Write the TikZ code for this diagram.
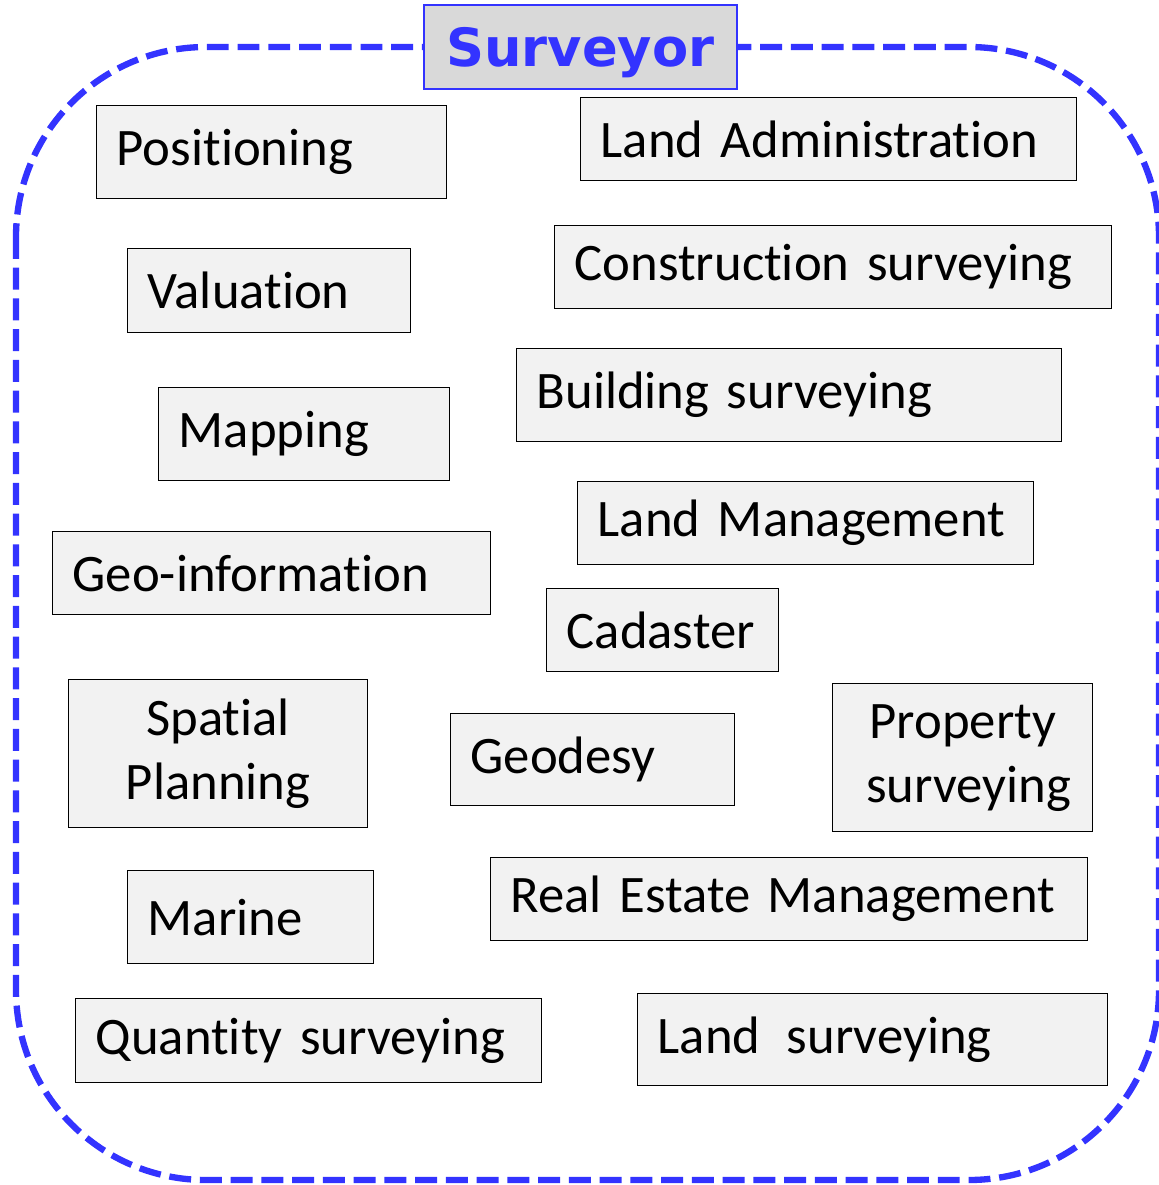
\documentclass[tikz,border=0pt]{standalone}
\usepackage{fontspec}
\setmainfont{Carlito}[Ligatures=NoCommon]
\newfontfamily\titlefont{DejaVu Sans}
\definecolor{surveyblue}{RGB}{51,51,255}
\definecolor{boxgray}{RGB}{242,242,242}
\definecolor{titlegray}{RGB}{217,217,217}
\begin{document}
\begin{tikzpicture}[x=0.02cm, y=-0.02cm,
  field/.style={draw=black, line width=0.8pt, fill=boxgray, anchor=north west,
    inner xsep=0.4cm, inner ysep=0pt, align=left, font=\fontsize{30}{36.5}\selectfont},
  titlebox/.style={draw=surveyblue, line width=0.9pt, fill=titlegray, anchor=north west,
    inner sep=0pt, minimum width=6.26cm, minimum height=1.68cm,
    text=surveyblue, font=\titlefont\bfseries\fontsize{30}{36}\selectfont}]
  \useasboundingbox (0,0) rectangle (1158,1185);

  % outer frame
  \draw[surveyblue, line width=3.6pt, dash pattern=on 12.5pt off 5pt, rounded corners=3.8cm]
    (16,47) rectangle (1159,1180);

  \node[titlebox] (TITLE) at (423,4) {\raisebox{-3.4pt}[\height][\depth]{Surveyor}};

  % left column
  \node[field, text width=6.2cm, minimum height=1.86cm] (POS) at (96,105) {Positioning};
  \node[field, text width=4.86cm, minimum height=1.68cm] (VAL) at (127,248) {Valuation};
  \node[field, text width=5.02cm, minimum height=1.86cm] (MAP) at (158,387) {Mapping};
  \node[field, text width=7.96cm, minimum height=1.66cm] (GEOI) at (52,531) {Geo-information};
  \node[field, text width=5.18cm, minimum height=2.96cm, align=center] (SPAT) at (68,679) {Spatial\\Planning};
  \node[field, text width=4.12cm, minimum height=1.86cm] (MAR) at (127,870) {Marine};
  \node[field, text width=8.52cm, minimum height=1.68cm] (QTY) at (75,998) {Quantity surveying};

  % right column
  \node[field, text width=9.12cm, minimum height=1.66cm] (LADM) at (580,97) {Land Administration};
  \node[field, text width=10.34cm, minimum height=1.66cm] (CONS) at (554,225) {Construction surveying};
  \node[field, text width=10.1cm, minimum height=1.86cm] (BLD) at (516,348) {Building surveying};
  \node[field, text width=8.32cm, minimum height=1.66cm] (LMGT) at (577,481) {Land Management};
  \node[field, text width=3.84cm, minimum height=1.66cm] (CAD) at (546,588) {Cadaster};
  \node[field, text width=4.88cm, minimum height=1.84cm] (GEOD) at (450,713) {Geodesy};
  \node[field, text width=4.4cm, minimum height=2.96cm, align=center] (PROP) at (832,683) {Property\\\hspace*{6.8pt}surveying};
  \node[field, text width=11.14cm, minimum height=1.66cm] (REM) at (490,857) {Real Estate Management};
  \node[field, text width=8.6cm, minimum height=1.84cm] (LSUR) at (637,993) {Land\hspace{15pt}surveying};
\end{tikzpicture}
\end{document}
